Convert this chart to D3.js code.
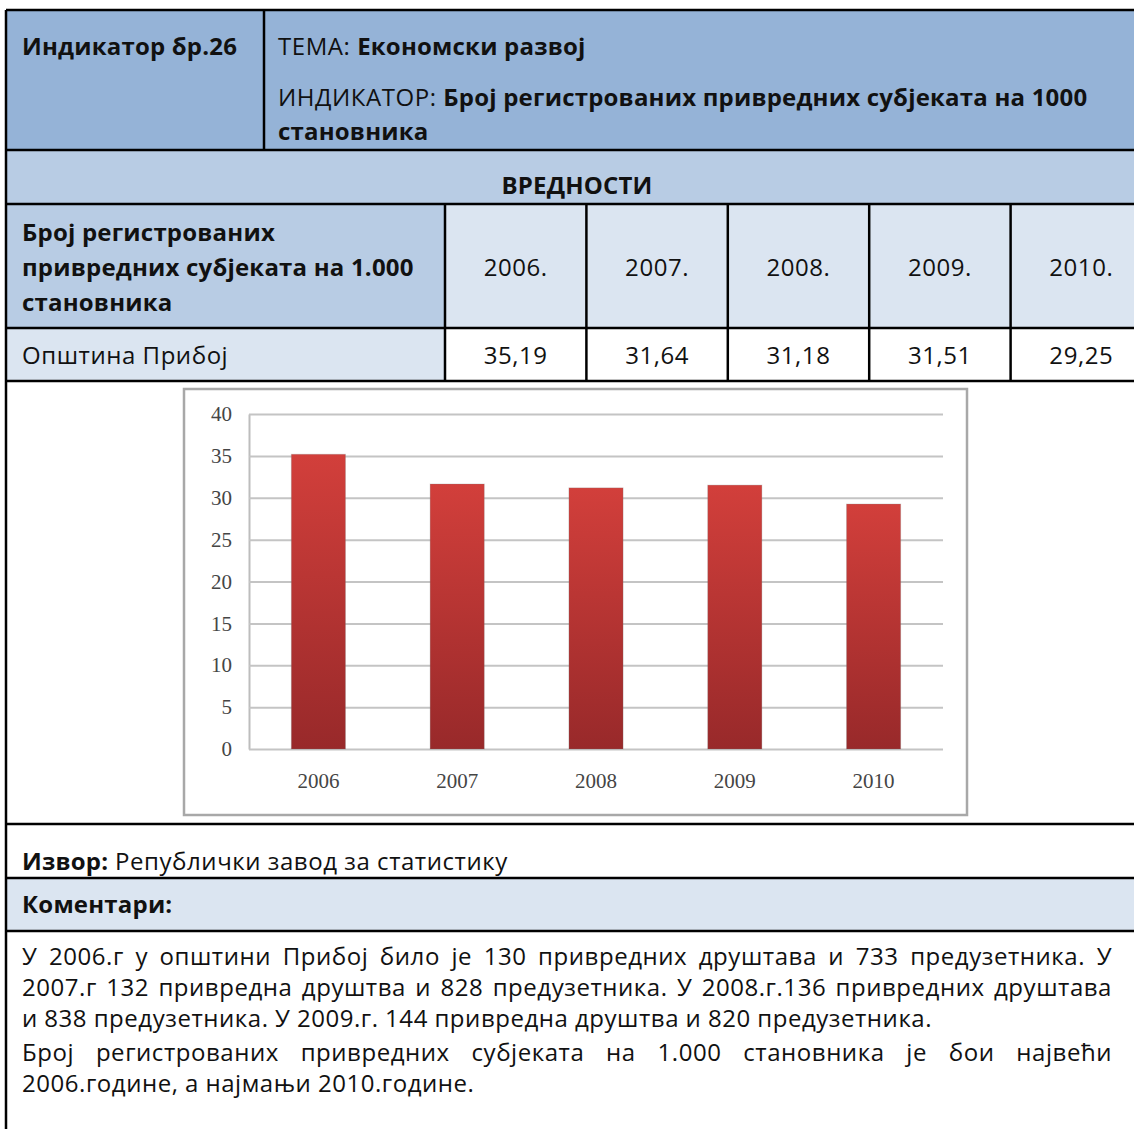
<!DOCTYPE html>
<html lang="sr">
<head>
<meta charset="UTF-8">
<title>Индикатор бр.26</title>
<script src="https://cdn.jsdelivr.net/npm/d3@7"></script>
<style>
    html, body { margin: 0; padding: 0; background: #fff; }
    svg { display: block; }
    .t { font-family: "Open Sans", sans-serif; font-size: 24px; letter-spacing: 0.55px; fill: #111; }
    .b { font-weight: bold; letter-spacing: 0.2px; }
    .ax { font-family: "Liberation Serif", serif; font-size: 21px; fill: #454545; }
</style>
</head>
<body>
<svg id="page" width="1134" height="1129"></svg>
<script>
// chart data
const years = ["2006", "2007", "2008", "2009", "2010"];
const values = [35.19, 31.64, 31.18, 31.51, 29.25];
const yTicks = [0, 5, 10, 15, 20, 25, 30, 35, 40];

// table texts
const rowLabel = "Општина Прибој";
const headerLines = ["Број регистрованих", "привредних субјеката на 1.000", "становника"];
const source = ["Извор:", " Републички завод за статистику"];
const commentLines = [
    {text: "У 2006.г у општини Прибој било је 130 привредних друштава и 733 предузетника. У", justify: true},
    {text: "2007.г 132 привредна друштва и 828 предузетника. У 2008.г.136 привредних друштава", justify: true},
    {text: "и 838 предузетника. У 2009.г. 144 привредна друштва и 820 предузетника.", justify: false},
    {text: "Број регистрованих привредних субјеката на 1.000 становника је бои највећи", justify: true},
    {text: "2006.године, а најмањи 2010.године.", justify: false}
];

const svg = d3.select("#page");
const L = 6, R = 1152, textX = 22;
const fmt = v => d3.format(".2f")(v).replace(".", ",");

// cell backgrounds
const fills = [
    [L, 10, R - L, 140, "#95B3D7"],
    [L, 150, R - L, 54, "#B8CCE4"],
    [L, 204, 445 - L, 124, "#B8CCE4"],
    [445, 204, R - 445, 124, "#DBE5F1"],
    [L, 328, 445 - L, 53, "#DBE5F1"],
    [L, 878, R - L, 53, "#DBE5F1"]
];
svg.selectAll("rect.cell")
    .data(fills)
    .join("rect")
    .attr("class", "cell")
    .attr("x", d => d[0]).attr("y", d => d[1])
    .attr("width", d => d[2]).attr("height", d => d[3])
    .attr("fill", d => d[4]);

// table text
const t = (x, y, cls, anchor) => svg.append("text")
    .attr("class", "t " + (cls || ""))
    .attr("x", x).attr("y", y)
    .attr("text-anchor", anchor || "start");

t(textX, 55, "b").text("Индикатор бр.26");
const tema = t(278, 55);
tema.append("tspan").text("ТЕМА: ");
tema.append("tspan").attr("class", "b").text("Економски развој");
const ind = t(278, 106);
ind.append("tspan").text("ИНДИКАТОР: ");
ind.append("tspan").attr("class", "b").text("Број регистрованих привредних субјеката на 1000");
t(278, 140, "b").text("становника");

t(577, 194, "b", "middle").text("ВРЕДНОСТИ");

headerLines.forEach((s, i) => t(textX, 241 + i * 35, "b").text(s));

const col = d3.scaleBand().domain(years).range([445, R]);
svg.append("g").selectAll("text")
    .data(years)
    .join("text")
    .attr("class", "t")
    .attr("text-anchor", "middle")
    .attr("x", d => col(d) + col.bandwidth() / 2)
    .attr("y", 276)
    .text(d => d + ".");

t(textX, 364).text(rowLabel);
svg.append("g").selectAll("text")
    .data(values)
    .join("text")
    .attr("class", "t")
    .attr("text-anchor", "middle")
    .attr("x", (d, i) => col(years[i]) + col.bandwidth() / 2)
    .attr("y", 364)
    .text(d => fmt(d));

const src = t(textX, 870);
src.append("tspan").attr("class", "b").text(source[0]);
src.append("tspan").text(source[1]);
t(textX, 913, "b").text("Коментари:");

// comments, justified line by line
const textW = 1112 - textX;
commentLines.forEach((line, i) => {
    const y = 965 + i * 31 + (i >= 3 ? 3 : 0);
    const words = line.text.split(" ");
    const g = svg.append("g");
    const nodes = words.map(w => g.append("text").attr("class", "t").attr("y", y).text(w));
    const widths = nodes.map(n => n.node().getComputedTextLength());
    const space = line.justify
        ? Math.max(3, (textW - d3.sum(widths)) / (words.length - 1))
        : 6.5;
    let x = textX;
    nodes.forEach((n, k) => {
        n.attr("x", x);
        x += widths[k] + space;
    });
});

// chart frame
svg.append("rect")
    .attr("x", 184).attr("y", 389)
    .attr("width", 783).attr("height", 426)
    .attr("fill", "#fff")
    .attr("stroke", "#A8A8A8")
    .attr("stroke-width", 2.5);

const x = d3.scaleBand().domain(years).range([249, 943]).paddingInner(0.61).paddingOuter(0.305);
const y = d3.scaleLinear().domain([0, 40]).range([749, 414]);

const grad = svg.append("defs").append("linearGradient")
    .attr("id", "barFill")
    .attr("x1", 0).attr("y1", 0).attr("x2", 0).attr("y2", 1);
grad.append("stop").attr("offset", "0%").attr("stop-color", "#D23F3B");
grad.append("stop").attr("offset", "100%").attr("stop-color", "#98292A");

const yAxis = svg.append("g")
    .attr("transform", "translate(249,0)")
    .call(d3.axisLeft(y).tickValues(yTicks).tickSize(-694).tickSizeOuter(0).tickPadding(17));
yAxis.select(".domain").attr("stroke", "#BDBDBD").attr("stroke-width", 2);
yAxis.selectAll(".tick line").attr("stroke", "#C4C4C4").attr("stroke-width", 2);
yAxis.selectAll(".tick text").attr("class", "ax").attr("fill", null);

svg.append("g").selectAll("rect")
    .data(values)
    .join("rect")
    .attr("x", (d, i) => x(years[i]))
    .attr("y", d => y(d))
    .attr("width", x.bandwidth())
    .attr("height", d => y(0) - y(d))
    .attr("fill", "url(#barFill)")
    .attr("stroke", "rgba(120,120,120,0.25)")
    .attr("stroke-width", 1);

const xAxis = svg.append("g")
    .attr("transform", "translate(0,749)")
    .call(d3.axisBottom(x).tickSize(0).tickPadding(24));
xAxis.select(".domain").remove();
xAxis.selectAll(".tick text").attr("class", "ax").attr("fill", null);

// table borders
const hLines = [10, 150, 204, 328, 381, 824, 878, 931];
svg.append("g").selectAll("line")
    .data(hLines)
    .join("line")
    .attr("x1", L).attr("x2", R)
    .attr("y1", d => d).attr("y2", d => d)
    .attr("stroke", "#000").attr("stroke-width", 2.5);
const vLines = [[L, 10, 1129], [264, 10, 150]]
    .concat(years.map(d => [col(d), 204, 381]));
svg.append("g").selectAll("line")
    .data(vLines)
    .join("line")
    .attr("x1", d => d[0]).attr("x2", d => d[0])
    .attr("y1", d => d[1]).attr("y2", d => d[2])
    .attr("stroke", "#000").attr("stroke-width", 2.5);
</script>
</body>
</html>
